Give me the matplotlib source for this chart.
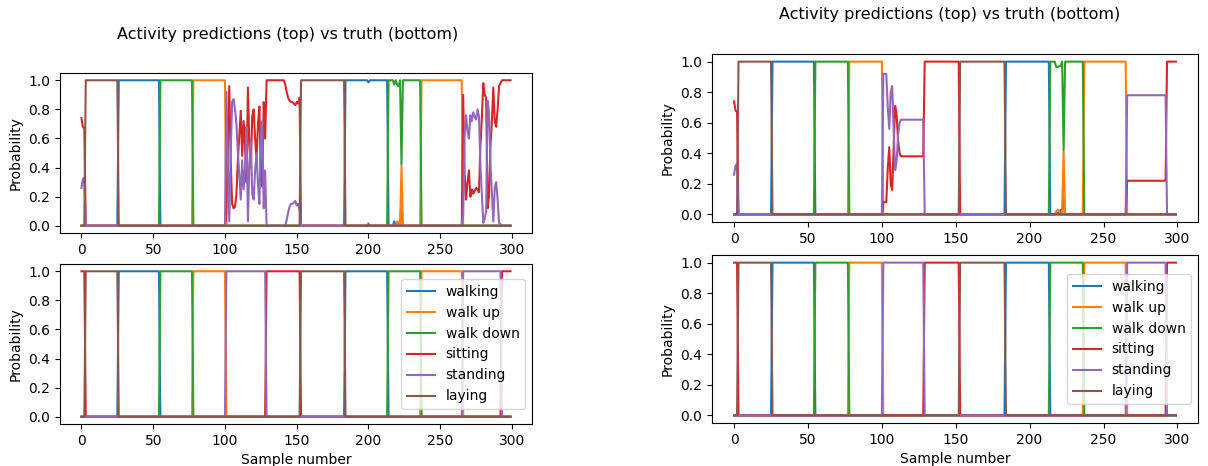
import numpy as np
import matplotlib
matplotlib.use("Agg")
import matplotlib.pyplot as plt

activities = ["walking", "walk up", "walk down", "sitting", "standing", "laying"]

# ground truth: activity index of each run and its length in samples
seg_labels = [3, 5, 0, 2, 1, 4, 3, 5, 0, 2, 1, 4, 3]
seg_lengths = [3, 23, 29, 23, 23, 28, 24, 31, 30, 23, 29, 27, 7]

# both models begin unsure between sitting and standing (samples 0-2)
start_sitting = [0.74, 0.68, 0.67]
start_standing = [0.26, 0.32, 0.33]

# left model, first standing run (samples 101-128)
a_std1_sitting = [0.08, 0.55, 0.96, 0.45, 0.15, 0.12, 0.13, 0.22, 0.45, 0.62,
                  0.79, 0.48, 0.72, 0.55, 0.30, 0.95, 0.55, 0.40, 0.75, 0.80,
                  0.60, 0.45, 0.70, 0.82, 0.35, 0.27, 0.85, 0.60]
a_std1_standing = [0.92, 0.44, 0.03, 0.50, 0.85, 0.87, 0.80, 0.70, 0.50, 0.35,
                   0.18, 0.45, 0.25, 0.40, 0.68, 0.03, 0.42, 0.58, 0.22, 0.18,
                   0.38, 0.50, 0.28, 0.15, 0.62, 0.72, 0.12, 0.38]
# left model, second sitting run (samples 129-152)
a_sit1_sitting = [1.0, 1.0, 1.0, 1.0, 1.0, 1.0, 1.0, 1.0, 1.0, 1.0, 1.0, 1.0,
                  1.0, 0.97, 0.92, 0.88, 0.86, 0.85, 0.85, 0.84, 0.83, 0.85,
                  0.84, 0.88]
a_sit1_standing = [0.0, 0.0, 0.0, 0.0, 0.0, 0.0, 0.0, 0.0, 0.0, 0.0, 0.0, 0.0,
                   0.0, 0.0, 0.04, 0.09, 0.13, 0.15, 0.15, 0.16, 0.17, 0.14,
                   0.15, 0.11]
# left model, second standing run (samples 266-292)
a_std2_sitting = [0.90, 0.35, 0.18, 0.30, 0.38, 0.20, 0.25, 0.22, 0.24, 0.26,
                  0.25, 0.23, 0.55, 0.74, 0.98, 0.90, 0.88, 0.12, 0.20, 0.55,
                  0.72, 0.95, 0.72, 0.68, 0.80, 0.96, 0.98]
a_std2_standing = [0.08, 0.62, 0.76, 0.65, 0.60, 0.76, 0.72, 0.78, 0.75, 0.73,
                   0.80, 0.75, 0.42, 0.22, 0.02, 0.05, 0.10, 0.86, 0.78, 0.42,
                   0.22, 0.03, 0.26, 0.30, 0.18, 0.02, 0.01]
# left model, hiccups during walking / walk down
a_glitch_x = [200, 218, 220, 221, 223]
a_glitch_walking = [0.985, 0.03, 0.0, 0.02, 0.17]
a_glitch_walkup = [0.0, 0.0, 0.03, 0.02, 0.41]
a_glitch_walkdown = [0.015, 0.97, 0.97, 0.96, 0.42]

# right model, first standing run (samples 101-128)
b_std1_sitting = [0.08, 0.08, 0.08, 0.30, 0.44, 0.20, 0.16, 0.45, 0.71, 0.65,
                  0.48, 0.40, 0.38, 0.38, 0.38, 0.38, 0.38, 0.38, 0.38, 0.38,
                  0.38, 0.38, 0.38, 0.38, 0.38, 0.38, 0.38, 0.38]
b_std1_standing = [0.92, 0.92, 0.92, 0.70, 0.56, 0.80, 0.84, 0.55, 0.29, 0.35,
                   0.52, 0.60, 0.62, 0.62, 0.62, 0.62, 0.62, 0.62, 0.62, 0.62,
                   0.62, 0.62, 0.62, 0.62, 0.62, 0.62, 0.62, 0.62]
# right model, second standing run (samples 266-292)
b_std2_sitting = [0.22, 0.22, 0.22, 0.22, 0.22, 0.22, 0.22, 0.22, 0.22, 0.22,
                  0.22, 0.22, 0.22, 0.22, 0.22, 0.22, 0.22, 0.22, 0.22, 0.22,
                  0.22, 0.22, 0.22, 0.22, 0.22, 0.22, 0.22]
b_std2_standing = [0.78, 0.78, 0.78, 0.78, 0.78, 0.78, 0.78, 0.78, 0.78, 0.78,
                   0.78, 0.78, 0.78, 0.78, 0.78, 0.78, 0.78, 0.78, 0.78, 0.78,
                   0.78, 0.78, 0.78, 0.78, 0.78, 0.78, 0.78]
b_glitch_x = [218, 219, 220, 221, 223]
b_glitch_walking = [0.015, 0.005, 0.01, 0.03, 0.17]
b_glitch_walkup = [0.02, 0.03, 0.02, 0.0, 0.41]
b_glitch_walkdown = [0.965, 0.965, 0.97, 0.97, 0.42]

prob_ticks = [0.0, 0.2, 0.4, 0.6, 0.8, 1.0]
sample_ticks = [0, 50, 100, 150, 200, 250, 300]


n = sum(seg_lengths)
xs = np.arange(n)
truth = np.zeros((n, 6))
pos = 0
for lab, ln in zip(seg_labels, seg_lengths):
    truth[pos:pos + ln, lab] = 1
    pos += ln


def put(p, start, cls, vals):
    p[start:start + len(vals), cls] = vals


def make_pred(std1, sit1, std2, glitch):
    p = truth.copy()
    p[0:3] = 0
    put(p, 0, 3, start_sitting)
    put(p, 0, 4, start_standing)
    p[101:129] = 0
    put(p, 101, 3, std1[0])
    put(p, 101, 4, std1[1])
    if sit1 is not None:
        p[129:153] = 0
        put(p, 129, 3, sit1[0])
        put(p, 129, 4, sit1[1])
    p[266:293] = 0
    put(p, 266, 3, std2[0])
    put(p, 266, 4, std2[1])
    gx, gw, gu, gd = glitch
    p[gx] = 0
    p[gx, 0] = gw
    p[gx, 1] = gu
    p[gx, 2] = gd
    return p


pred_a = make_pred((a_std1_sitting, a_std1_standing),
                   (a_sit1_sitting, a_sit1_standing),
                   (a_std2_sitting, a_std2_standing),
                   (a_glitch_x, a_glitch_walking, a_glitch_walkup, a_glitch_walkdown))
pred_b = make_pred((b_std1_sitting, b_std1_standing),
                   None,
                   (b_std2_sitting, b_std2_standing),
                   (b_glitch_x, b_glitch_walking, b_glitch_walkup, b_glitch_walkdown))

W, H = 1208, 466
fig = plt.figure(figsize=(W / 100, H / 100), dpi=100)


def box(x0, y0, x1, y1):
    # pixel box (top-left origin) -> figure fraction
    return [x0 / W, 1 - y1 / H, (x1 - x0) / W, (y1 - y0) / H]


panels = [
    (pred_a, box(60, 73, 532, 233), box(60, 264, 532, 424), (288, 34)),
    (pred_b, box(712, 54, 1198, 222), box(712, 255, 1198, 423), (950, 15)),
]

for pred, top_box, bot_box, (tx, ty) in panels:
    ax1 = fig.add_axes(top_box)
    ax2 = fig.add_axes(bot_box)
    for k, name in enumerate(activities):
        ax1.plot(xs, pred[:, k], label=name)
        ax2.plot(xs, truth[:, k], label=name)
    for ax in (ax1, ax2):
        ax.set_ylabel("Probability")
        ax.set_xticks(sample_ticks)
        ax.set_yticks(prob_ticks)
    ax2.set_xlabel("Sample number")
    ax2.legend(loc="center right")
    fig.text(tx / W, 1 - ty / H, "Activity predictions (top) vs truth (bottom)",
             ha="center", va="center", fontsize=11.5)

plt.savefig("out.png", dpi=100)
